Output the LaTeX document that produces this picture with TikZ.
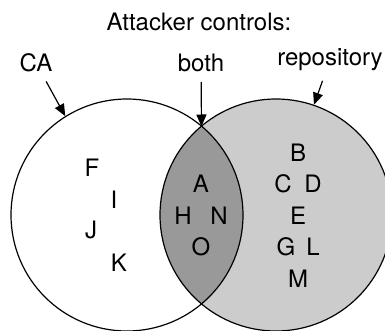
\documentclass[tikz,border=0pt]{standalone}
\usepackage{fontspec}
\setmainfont{TeX Gyre Heros}
\usepackage{tikz}
\usepackage{xcolor}
\usetikzlibrary{arrows.meta}
\usetikzlibrary{positioning}
\definecolor{repogray}{gray}{0.8}
\definecolor{bothgray}{gray}{0.6}
\tikzstyle{set} = [circle, minimum size=232pt, inner sep=0pt, line width=1.2pt]
\tikzstyle{member} = [inner sep=1pt, font=\fontsize{24}{26}\selectfont]
\tikzstyle{tag} = [inner sep=2pt, font=\fontsize{24}{26}\selectfont]
\tikzstyle{pointer} = [-{Triangle[length=12pt,width=10pt]}, line width=1.2pt, shorten <=8pt]

\begin{document}
\begin{tikzpicture}[x=1pt, y=-1pt]
  \clip (0,0) rectangle (385,330);
  \node[set, fill=repogray] (repo) at (276,215) {};
  \node[set] (ca) at (127,215) {};
  \begin{scope}
    \clip (127,215) circle (116pt);
    \fill[bothgray] (276,215) circle (116pt);
  \end{scope}
  \draw[line width=1.2pt] (127,215) circle (116pt);
  \draw[line width=1.2pt] (276,215) circle (116pt);
  \coordinate (top) at (201.5,126.5);

  \node[tag] (title) at (199,22) {Attacker controls:};
  \node[tag] (calab) at (36,63) {CA};
  \node[tag] (bothlab) at (201,63) {both};
  \node[tag] (repolab) at (330,60) {repository};

  \draw[pointer] (calab) -- (ca.122);
  \draw[pointer] (bothlab) -- (top);
  \draw[pointer] (repolab) -- (repo.71);

  % CA only
  \node[member] (f) at (92,168) {F};
  \node[member] (i) at (114,200) {I};
  \node[member] (j) at (91,230) {J};
  \node[member] (k) at (119,263) {K};
  % both
  \node[member] (a) at (201,184) {A};
  \node[member] (h) at (183,216) {H};
  \node[member] (n) at (219,216) {N};
  \node[member] (o) at (201,247) {O};
  % repository only
  \node[member] (b) at (298,153) {B};
  \node[member] (c) at (283,184) {C};
  \node[member] (d) at (313,184) {D};
  \node[member] (e) at (298,216) {E};
  \node[member] (g) at (286,247) {G};
  \node[member] (l) at (313,247) {L};
  \node[member] (m) at (298,279) {M};
\end{tikzpicture}
\end{document}
